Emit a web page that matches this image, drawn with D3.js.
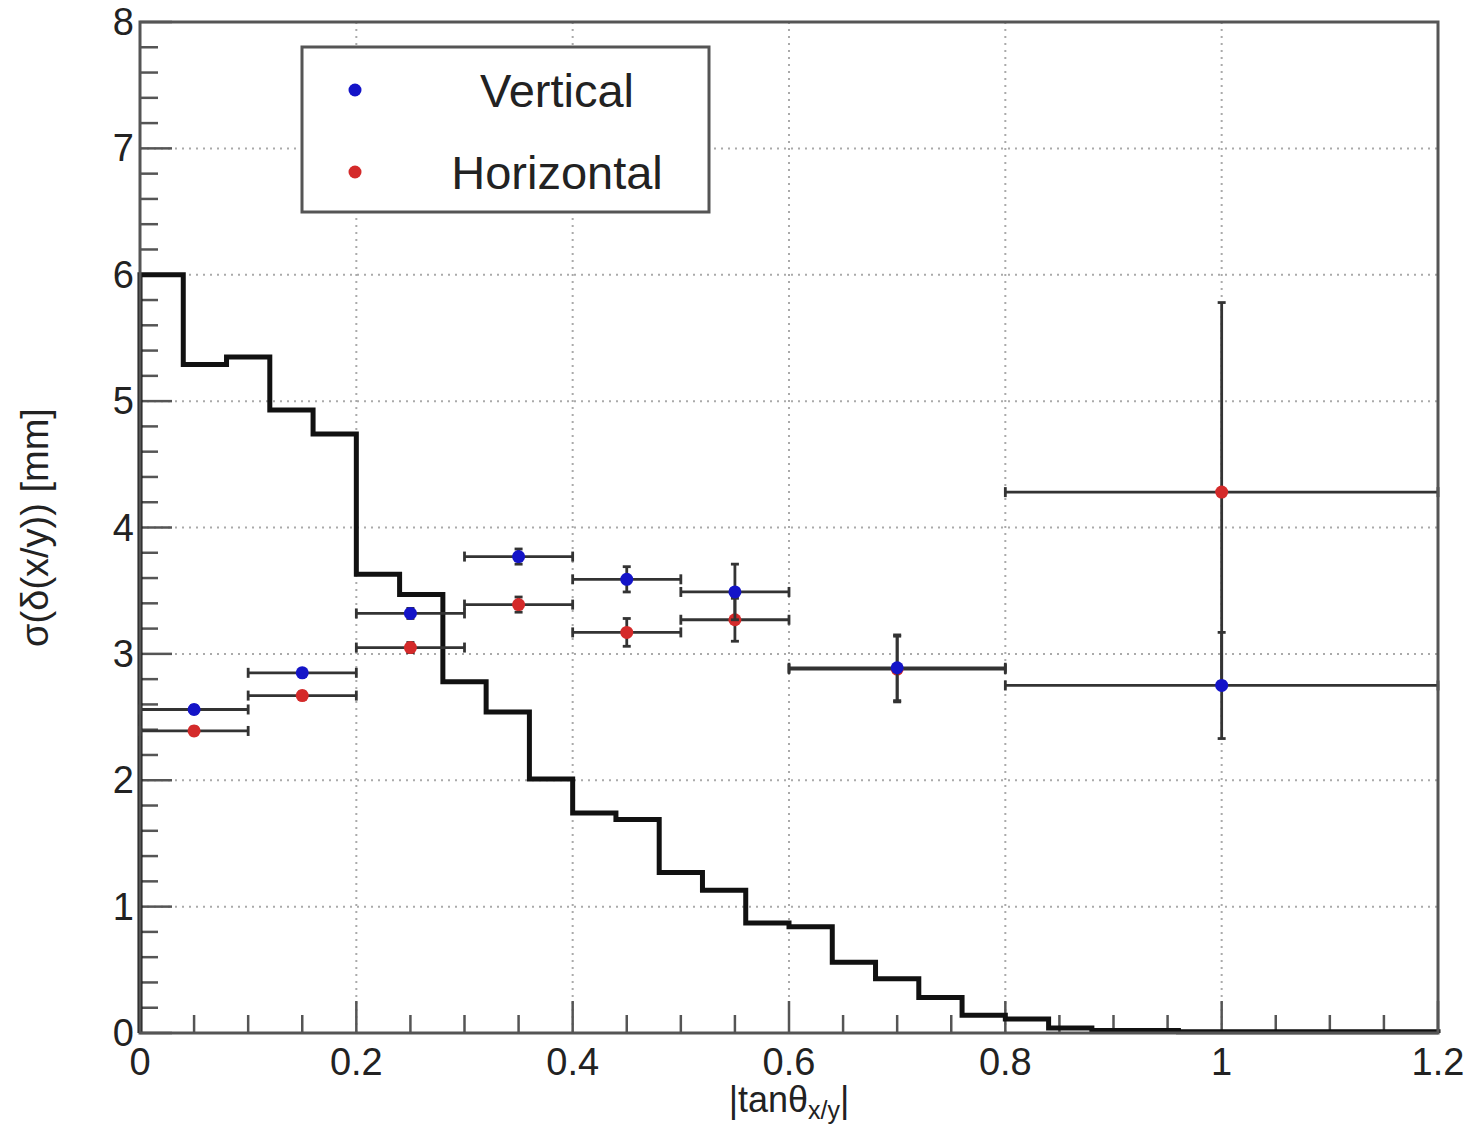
<!DOCTYPE html>
<html>
<head>
<meta charset="utf-8">
<script src="https://cdn.jsdelivr.net/npm/d3@7"></script>
<style>
  body { margin: 0; background: #fff; }
  text { font-family: "Liberation Sans", Arial, Helvetica, sans-serif; fill: #222; }
</style>
</head>
<body>
<div id="chart"></div>
<script>
// Histogram (bin width 0.04 from 0 to 1.2)
const histLow = 0, histBin = 0.04;
const histValues = [6.0, 5.29, 5.35, 4.93, 4.74, 3.63, 3.47, 2.78, 2.54, 2.01,
                    1.74, 1.69, 1.27, 1.13, 0.87, 0.84, 0.56, 0.43, 0.28, 0.14,
                    0.11, 0.04, 0.02, 0.02, 0.01, 0.01, 0.01, 0.01, 0.01, 0.01];

// Points
const xCenters = [0.05, 0.15, 0.25, 0.35, 0.45, 0.55, 0.7, 1.0];
const xErr     = [0.05, 0.05, 0.05, 0.05, 0.05, 0.05, 0.1, 0.2];
const vertY    = [2.56, 2.85, 3.32, 3.77, 3.59, 3.49, 2.89, 2.75];
const vertErr  = [0.03, 0.03, 0.04, 0.06, 0.10, 0.22, 0.26, 0.42];
const horiY    = [2.39, 2.67, 3.05, 3.39, 3.17, 3.27, 2.88, 4.28];
const horiErr  = [0.03, 0.03, 0.04, 0.06, 0.11, 0.17, 0.26, 1.50];

const xTicks = [0, 0.2, 0.4, 0.6, 0.8, 1, 1.2];
const yTicks = [0, 1, 2, 3, 4, 5, 6, 7, 8];

const W = 1473, H = 1131;
const margin = { top: 22, right: 35, bottom: 98, left: 140 },
      width = W - margin.left - margin.right,
      height = H - margin.top - margin.bottom;

const blue = "#1414c8", red = "#d42a2a";

const svg = d3.select("#chart").append("svg")
    .attr("width", W).attr("height", H);
const g = svg.append("g")
    .attr("transform", `translate(${margin.left},${margin.top})`);

const x = d3.scaleLinear().domain([0, 1.2]).range([0, width]);
const y = d3.scaleLinear().domain([0, 8]).range([height, 0]);

// Grid
g.append("g").selectAll("line").data(xTicks.slice(1, -1)).join("line")
    .attr("x1", d => x(d)).attr("x2", d => x(d))
    .attr("y1", 0).attr("y2", height)
    .attr("stroke", "#aaa").attr("stroke-width", 2).attr("stroke-dasharray", "2,5");
g.append("g").selectAll("line").data(yTicks.slice(1, -1)).join("line")
    .attr("y1", d => y(d)).attr("y2", d => y(d))
    .attr("x1", 0).attr("x2", width)
    .attr("stroke", "#aaa").attr("stroke-width", 2).attr("stroke-dasharray", "2,5");

// Ticks inside the frame
const xMinor = d3.range(0, 1.2001, 0.05);
g.append("g").selectAll("line").data(xMinor).join("line")
    .attr("x1", d => x(d)).attr("x2", d => x(d))
    .attr("y1", height)
    .attr("y2", d => height - (Math.abs(d / 0.2 - Math.round(d / 0.2)) < 1e-6 ? 32 : 18))
    .attr("stroke", "#555").attr("stroke-width", 2.5);
const yMinor = d3.range(0, 8.0001, 0.2);
g.append("g").selectAll("line").data(yMinor).join("line")
    .attr("y1", d => y(d)).attr("y2", d => y(d))
    .attr("x1", 0)
    .attr("x2", d => (Math.abs(d - Math.round(d)) < 1e-6 ? 32 : 18))
    .attr("stroke", "#555").attr("stroke-width", 2.5);

// Histogram as steps
const histPts = [[histLow, 0]];
histValues.forEach((v, i) => {
    histPts.push([histLow + i * histBin, v]);
    histPts.push([histLow + (i + 1) * histBin, v]);
});
histPts.push([histLow + histValues.length * histBin, 0]);
g.append("path")
    .datum(histPts)
    .attr("fill", "none")
    .attr("stroke", "#111")
    .attr("stroke-width", 5)
    .attr("stroke-linejoin", "miter")
    .attr("d", d3.line().x(d => x(d[0])).y(d => y(d[1])));

// Error bars + markers
function drawSeries(ys, errs, color) {
    const pts = xCenters.map((c, i) => ({ x: c, ex: xErr[i], y: ys[i], ey: errs[i] }));
    const eg = g.append("g").attr("stroke", "#333").attr("stroke-width", 2.8);
    pts.forEach(p => {
        eg.append("line")
            .attr("x1", x(p.x - p.ex)).attr("x2", x(p.x + p.ex))
            .attr("y1", y(p.y)).attr("y2", y(p.y));
        eg.append("line")
            .attr("x1", x(p.x)).attr("x2", x(p.x))
            .attr("y1", y(p.y - p.ey)).attr("y2", y(p.y + p.ey));
        // small end caps
        [p.x - p.ex, p.x + p.ex].forEach(cx => {
            eg.append("line")
                .attr("x1", x(cx)).attr("x2", x(cx))
                .attr("y1", y(p.y) - 5).attr("y2", y(p.y) + 5);
        });
        [p.y - p.ey, p.y + p.ey].forEach(cy => {
            eg.append("line")
                .attr("x1", x(p.x) - 4).attr("x2", x(p.x) + 4)
                .attr("y1", y(cy)).attr("y2", y(cy));
        });
    });
    g.append("g").selectAll("circle").data(pts).join("circle")
        .attr("cx", d => x(d.x)).attr("cy", d => y(d.y))
        .attr("r", 6.5).attr("fill", color);
}
drawSeries(horiY, horiErr, red);
drawSeries(vertY, vertErr, blue);

// Frame
g.append("rect")
    .attr("x", 0).attr("y", 0).attr("width", width).attr("height", height)
    .attr("fill", "none").attr("stroke", "#555").attr("stroke-width", 3);

// Tick labels
svg.append("g").selectAll("text").data(xTicks).join("text")
    .attr("x", d => margin.left + x(d))
    .attr("y", margin.top + height + 42)
    .attr("text-anchor", "middle")
    .attr("font-size", 38)
    .text(d => d3.format("~g")(d));
svg.append("g").selectAll("text").data(yTicks).join("text")
    .attr("x", margin.left - 6)
    .attr("y", d => margin.top + y(d) + 13)
    .attr("text-anchor", "end")
    .attr("font-size", 38)
    .text(d => d);

// Axis titles
const xt = svg.append("text")
    .attr("x", margin.left + width / 2)
    .attr("y", H - 19)
    .attr("text-anchor", "middle")
    .attr("font-size", 36);
xt.append("tspan").text("|tanθ");
xt.append("tspan").attr("font-size", 25).attr("dy", 7).text("x/y");
xt.append("tspan").attr("dy", -7).text("|");

svg.append("text")
    .attr("transform", `translate(48,${margin.top + y(4)}) rotate(-90)`)
    .attr("text-anchor", "middle")
    .attr("font-size", 38)
    .text("σ(δ(x/y)) [mm]");

// Legend
const leg = svg.append("g");
leg.append("rect")
    .attr("x", 302).attr("y", 47).attr("width", 407).attr("height", 165)
    .attr("fill", "#fff").attr("stroke", "#555").attr("stroke-width", 3);
const legItems = [{ name: "Vertical", color: blue }, { name: "Horizontal", color: red }];
legItems.forEach((d, i) => {
    const cy = 90 + i * 82;
    leg.append("circle").attr("cx", 355).attr("cy", cy).attr("r", 6.5).attr("fill", d.color);
    leg.append("text")
        .attr("x", 557).attr("y", cy + 17)
        .attr("text-anchor", "middle")
        .attr("font-size", 47)
        .text(d.name);
});
</script>
</body>
</html>
